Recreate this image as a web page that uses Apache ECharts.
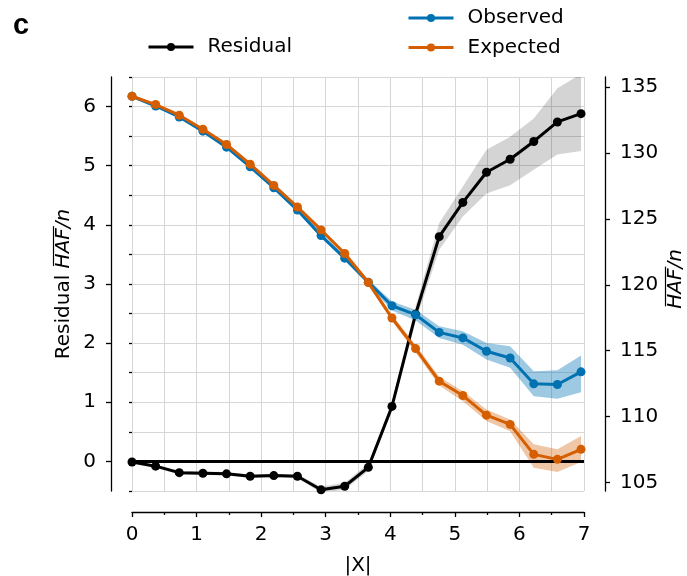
<!DOCTYPE html>
<html>
<head>
<meta charset="utf-8">
<script src="https://cdn.jsdelivr.net/npm/echarts@6/dist/echarts.min.js"></script>
<style>html,body{margin:0;padding:0;background:#fff}#c{width:687px;height:576px}</style>
</head>
<body>
<div id="c"></div>
<script>
// ---- data ----
const xVals = [0, 0.366, 0.732, 1.098, 1.464, 1.83, 2.196, 2.562, 2.928, 3.294, 3.66, 4.026, 4.392, 4.758, 5.124, 5.49, 5.856, 6.222, 6.588, 6.954];

const residual     = [-0.01, -0.08, -0.19, -0.20, -0.21, -0.25, -0.24, -0.25, -0.48, -0.42, -0.10, 0.93, 2.49, 3.80, 4.38, 4.89, 5.11, 5.41, 5.74, 5.88];
const residualLow  = [-0.03, -0.11, -0.22, -0.23, -0.24, -0.28, -0.27, -0.28, -0.53, -0.48, -0.16, 0.85, 2.36, 3.58, 4.14, 4.53, 4.67, 4.93, 5.19, 5.25];
const residualHigh = [0.01, -0.05, -0.16, -0.17, -0.18, -0.22, -0.21, -0.22, -0.43, -0.36, -0.04, 1.01, 2.62, 4.03, 4.65, 5.27, 5.49, 5.80, 6.31, 6.55];

const observed     = [134.30, 133.56, 132.73, 131.65, 130.44, 128.95, 127.36, 125.67, 123.73, 122.02, 120.20, 118.41, 117.73, 116.39, 115.97, 114.96, 114.45, 112.49, 112.44, 113.40];
const observedLow  = [134.20, 133.46, 132.63, 131.55, 130.33, 128.84, 127.22, 125.52, 123.57, 121.85, 120.00, 118.05, 117.30, 115.97, 115.46, 114.33, 113.70, 111.55, 111.35, 111.85];
const observedHigh = [134.40, 133.66, 132.83, 131.75, 130.55, 129.06, 127.50, 125.82, 123.89, 122.19, 120.40, 118.74, 118.10, 116.85, 116.47, 115.59, 115.33, 113.44, 113.52, 114.63];

const expected     = [134.30, 133.67, 132.86, 131.80, 130.64, 129.15, 127.54, 125.90, 124.16, 122.37, 120.17, 117.48, 115.16, 112.69, 111.60, 110.11, 109.41, 107.14, 106.76, 107.52];
const expectedLow  = [134.20, 133.57, 132.76, 131.70, 130.53, 129.04, 127.40, 125.75, 124.00, 122.20, 119.97, 117.23, 114.86, 112.36, 111.17, 109.66, 108.90, 106.13, 105.80, 106.56];
const expectedHigh = [134.40, 133.77, 132.96, 131.90, 130.75, 129.26, 127.68, 126.05, 124.32, 122.54, 120.37, 117.73, 115.46, 113.02, 111.93, 110.55, 109.79, 107.90, 107.52, 108.53];

const zeroLevel = 0;
const xTicks = [0, 1, 2, 3, 4, 5, 6, 7];
const leftTicks = [0, 1, 2, 3, 4, 5, 6];
const rightTicks = [105, 110, 115, 120, 125, 130, 135];

const leftTitlePlain = 'Residual ';
const titleOver = 'HAF';
const titleRest = '/n';

// ---- styling ----
const FONT = 'DejaVu Sans';
const FS = 20;
const BLACK = '#000000';
const BLUE = '#0072B2';
const ORANGE = '#D55E00';
const GRID = '#d6d6d6';
const AX = {color: '#000', width: 1.3};

function pairs(xs, ys) { return xs.map((x, i) => [x, ys[i]]); }

function band(name, low, high, yAxisIndex, fill, z) {
  return {
    name: name, type: 'custom', yAxisIndex: yAxisIndex, z: z, silent: true, clip: true,
    data: [[xVals[0], low[0]]],
    renderItem: function (params, api) {
      const pts = [];
      for (let i = 0; i < xVals.length; i++) pts.push(api.coord([xVals[i], high[i]]));
      for (let i = xVals.length - 1; i >= 0; i--) pts.push(api.coord([xVals[i], low[i]]));
      return {type: 'polygon', shape: {points: pts}, style: {fill: fill, stroke: null}};
    }
  };
}

function lineSeries(name, ys, yAxisIndex, color, z) {
  return {
    name: name, type: 'line', yAxisIndex: yAxisIndex, z: z,
    data: pairs(xVals, ys),
    symbol: 'circle', symbolSize: 9, showSymbol: true,
    lineStyle: {color: color, width: 3},
    itemStyle: {color: color, borderWidth: 0},
    emphasis: {disabled: true}
  };
}

// text measuring for the rotated axis titles with an overline
const mctx = document.createElement('canvas').getContext('2d');
function tw(s, italic) {
  mctx.font = (italic ? 'italic ' : '') + FS + 'px "' + FONT + '"';
  return mctx.measureText(s).width;
}

function axisTitle(cx, cy, plain) {
  const wP = plain ? tw(plain, false) : 0;
  const wO = tw(titleOver, true);
  const wR = tw(titleRest, true);
  const W = wP + wO + wR;
  const x0 = -W / 2;
  const children = [];
  if (plain) {
    children.push({type: 'text', x: x0, y: 0,
      style: {text: plain, font: FS + 'px "' + FONT + '"', fill: '#000', align: 'left', verticalAlign: 'middle'}});
  }
  children.push({type: 'text', x: x0 + wP, y: 0,
    style: {text: titleOver + titleRest, font: 'italic ' + FS + 'px "' + FONT + '"', fill: '#000', align: 'left', verticalAlign: 'middle'}});
  children.push({type: 'line', shape: {x1: x0 + wP + 2.5, y1: -10.5, x2: x0 + wP + wO + 2, y2: -10.5},
    style: {stroke: '#000', lineWidth: 1.2}});
  return {type: 'group', x: cx, y: cy, rotation: Math.PI / 2, silent: true, children: children};
}

const chart = echarts.init(document.getElementById('c'), null, {renderer: 'canvas'});

const resSeries = lineSeries('Residual', residual, 0, BLACK, 6);
resSeries.markLine = {
  silent: true, symbol: ['none', 'none'], animation: false,
  label: {show: false},
  lineStyle: {color: BLACK, width: 3, type: 'solid'},
  data: [{yAxis: zeroLevel}]
};

const legendText = {fontSize: FS, fontFamily: FONT, color: '#000', padding: [0, 0, 0, 9], lineHeight: 20};

const option = {
  animation: false,
  textStyle: {fontFamily: FONT, color: '#000'},
  title: {
    text: 'c', left: 8, top: 6,
    textStyle: {fontFamily: 'Liberation Sans', fontWeight: 'bold', fontSize: 29, color: '#000'}
  },
  legend: [
    {
      data: ['Residual'], left: 142, top: 32, itemWidth: 45, itemHeight: 10,
      lineStyle: {width: 3}, textStyle: legendText
    },
    {
      data: ['Observed', 'Expected'], orient: 'vertical', left: 402, top: 3, itemGap: 9.4,
      itemWidth: 45, itemHeight: 10, lineStyle: {width: 3}, textStyle: legendText
    }
  ],
  grid: {left: 132, right: 103, top: 77, bottom: 85, containLabel: false, outerBoundsMode: 'none'},
  xAxis: {
    type: 'value', min: 0, max: 7, interval: 1, offset: 21,
    axisLine: {show: true, onZero: false, lineStyle: AX},
    axisTick: {show: true, length: 5, lineStyle: AX},
    minorTick: {show: true, splitNumber: 2, length: 3, lineStyle: AX},
    splitLine: {show: true, lineStyle: {color: GRID, width: 1}},
    minorSplitLine: {show: true, lineStyle: {color: GRID, width: 1}},
    axisLabel: {fontSize: FS, color: '#000', margin: 13, fontFamily: FONT, customValues: xTicks},
    name: '|X|', nameLocation: 'middle', nameGap: 44,
    nameTextStyle: {fontSize: FS, color: '#000', fontFamily: FONT}
  },
  yAxis: [
    {
      type: 'value', position: 'left', min: -0.5, max: 6.5, offset: 21,
      axisLine: {show: true, onZero: false, lineStyle: AX},
      axisTick: {show: true, length: 5, lineStyle: AX, customValues: leftTicks},
      axisLabel: {fontSize: FS, color: '#000', margin: 15, fontFamily: FONT, customValues: leftTicks},
      splitLine: {show: false}
    },
    {
      type: 'value', position: 'right', min: 104.36, max: 135.76, offset: 21,
      axisLine: {show: true, onZero: false, lineStyle: AX},
      axisTick: {show: true, length: 5, lineStyle: AX, customValues: rightTicks},
      axisLabel: {fontSize: FS, color: '#000', margin: 15, fontFamily: FONT, customValues: rightTicks},
      splitLine: {show: false}
    },
    {
      type: 'value', position: 'left', min: -0.5, max: 6.5, interval: 0.5, offset: 21,
      axisLine: {show: false},
      axisTick: {show: true, length: 3, lineStyle: AX},
      axisLabel: {show: false},
      splitLine: {show: true, lineStyle: {color: GRID, width: 1}}
    }
  ],
  graphic: [
    axisTitle(64, 284, leftTitlePlain),
    axisTitle(676, 279, '')
  ],
  series: [
    band('resBand', residualLow, residualHigh, 0, 'rgba(0,0,0,0.17)', 1),
    band('obsBand', observedLow, observedHigh, 1, 'rgba(0,114,178,0.38)', 2),
    band('expBand', expectedLow, expectedHigh, 1, 'rgba(213,94,0,0.35)', 2),
    resSeries,
    lineSeries('Observed', observed, 1, BLUE, 7),
    lineSeries('Expected', expected, 1, ORANGE, 8)
  ]
};
chart.setOption(option);
</script>
</body>
</html>
